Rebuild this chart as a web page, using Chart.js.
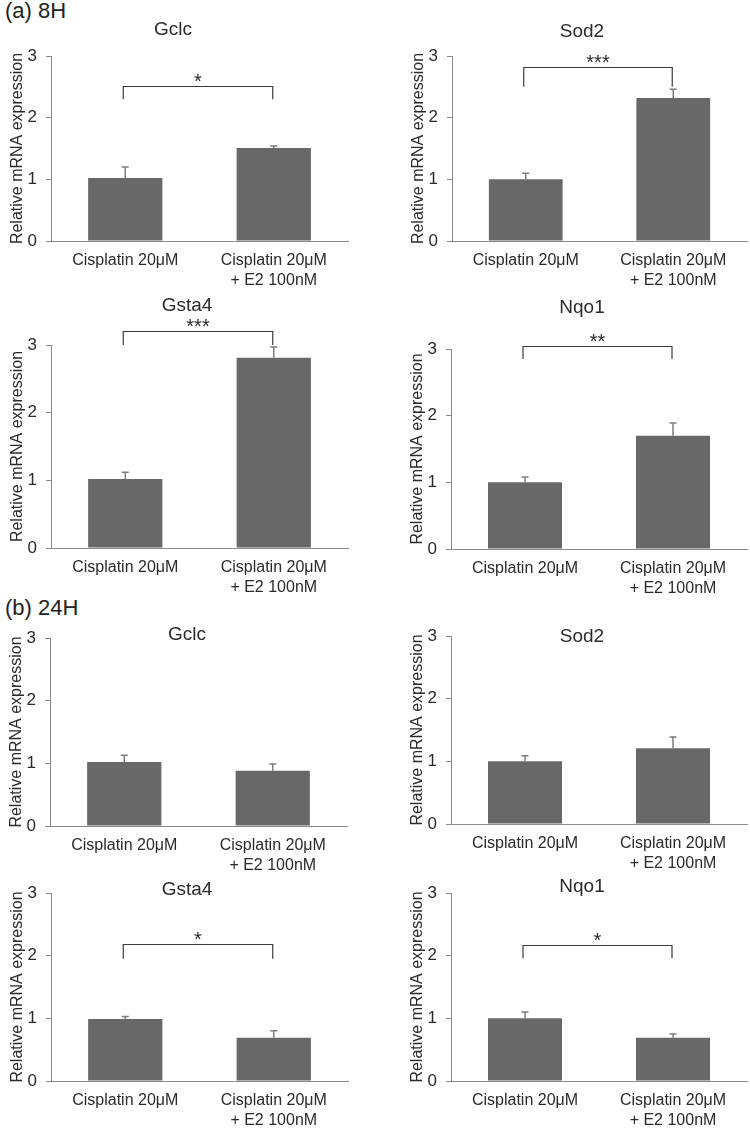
<!DOCTYPE html>
<html>
<head>
<meta charset="utf-8">
<script src="https://cdn.jsdelivr.net/npm/chart.js@4.4.1/dist/chart.umd.min.js"></script>
<style>
    html, body { margin: 0; padding: 0; background: #fff; overflow: hidden; }
    #wrap { position: relative; width: 750px; height: 1128px; }
    #wrap canvas { position: absolute; }
    .tag {
        position: absolute; left: 5px;
        font: 22px "Liberation Sans", Arial, sans-serif;
        line-height: 22px; color: #222;
    }
</style>
</head>
<body>
<div id="wrap">
    <div class="tag" style="top: 0px;">(a) 8H</div>
    <div class="tag" style="top: 597px;">(b) 24H</div>
</div>
<script>
// data
const categories = [["Cisplatin 20μM"], ["Cisplatin 20μM", "+ E2 100nM"]];
const genes = ["Gclc", "Sod2", "Gsta4", "Nqo1", "Gclc", "Sod2", "Gsta4", "Nqo1"];
const means = [
    [1.02, 1.51], [1.0, 2.32], [1.02, 2.81], [1.0, 1.7],
    [1.02, 0.88], [1.0, 1.21], [0.99, 0.69], [1.0, 0.69]
];
const errors = [
    [0.18, 0.03], [0.1, 0.14], [0.1, 0.16], [0.08, 0.19],
    [0.11, 0.11], [0.09, 0.18], [0.04, 0.11], [0.1, 0.06]
];
const stars = ["*", "***", "***", "**", "", "", "*", "*"];
const bracketTop = [2.51, 2.82, 3.2, 3.04, null, null, 2.19, 2.17];
const bracketFoot = [2.3, 2.5, 3.0, 2.85, null, null, 1.95, 1.96];
const yTicks = [0, 1, 2, 3];

// where each panel sits on the page (pixels)
const panels = [
    { col: 0, y3: 56, y0: 241, axisX: 51, right: 348, titleX: 173, titleY: 35 },
    { col: 1, y3: 56, y0: 241, axisX: 452, right: 747, titleX: 582, titleY: 37 },
    { col: 0, y3: 345, y0: 548, axisX: 51, right: 348, titleX: 187, titleY: 311 },
    { col: 1, y3: 349, y0: 549, axisX: 451, right: 747, titleX: 582, titleY: 313 },
    { col: 0, y3: 638, y0: 826, axisX: 50, right: 347, titleX: 187, titleY: 640 },
    { col: 1, y3: 636, y0: 824, axisX: 451, right: 747, titleX: 582, titleY: 642 },
    { col: 0, y3: 893, y0: 1081, axisX: 51, right: 348, titleX: 187, titleY: 895 },
    { col: 1, y3: 893, y0: 1081, axisX: 451, right: 747, titleX: 582, titleY: 892 }
];

const FONT = '"Liberation Sans", Arial, sans-serif';
const TOP = 56, Y_W = 51, X_H = 50;
const barColor = "#686868";
const axisColor = "#8a8a8a";
const textColor = "#2a2a2a";

// error bars, brackets, stars and gene names
const annotate = {
    id: "annotate",
    afterDatasetsDraw(chart, args, opts) {
        const { ctx, scales: { x, y } } = chart;
        const i = opts.index;
        const p = panels[i];
        ctx.save();

        ctx.strokeStyle = "#7c7c7c";
        ctx.lineWidth = 1.5;
        means[i].forEach((m, j) => {
            const cx = x.getPixelForValue(j);
            const yb = y.getPixelForValue(m);
            const ye = y.getPixelForValue(m + errors[i][j]);
            ctx.beginPath();
            ctx.moveTo(cx, yb);
            ctx.lineTo(cx, ye);
            ctx.moveTo(cx - 3.5, ye);
            ctx.lineTo(cx + 3.5, ye);
            ctx.stroke();
        });

        if (bracketTop[i] !== null) {
            const x1 = x.getPixelForValue(0) - 2;
            const x2 = x.getPixelForValue(1) - 1;
            const yt = Math.round(y.getPixelForValue(bracketTop[i])) + 0.5;
            const yf = y.getPixelForValue(bracketFoot[i]);
            ctx.strokeStyle = "#3a3a3a";
            ctx.lineWidth = 1.2;
            ctx.beginPath();
            ctx.moveTo(x1, yf);
            ctx.lineTo(x1, yt);
            ctx.lineTo(x2, yt);
            ctx.lineTo(x2, yf);
            ctx.stroke();

            ctx.fillStyle = textColor;
            ctx.font = "20px " + FONT;
            ctx.textAlign = "center";
            ctx.textBaseline = "alphabetic";
            ctx.fillText(stars[i], (x1 + x2) / 2, yt + 1);
        }

        const left = p.col * 375;
        const top = p.y3 - TOP;
        ctx.fillStyle = textColor;
        ctx.font = "19px " + FONT;
        ctx.textAlign = "center";
        ctx.textBaseline = "alphabetic";
        ctx.fillText(genes[i], p.titleX - left, p.titleY - top);

        ctx.restore();
    }
};

const wrap = document.getElementById("wrap");

panels.forEach((p, i) => {
    const left = p.col * 375;
    const top = p.y3 - TOP;
    const width = 375;
    const height = p.y0 - top + X_H;

    const canvas = document.createElement("canvas");
    canvas.width = width;
    canvas.height = height;
    canvas.style.left = left + "px";
    canvas.style.top = top + "px";
    canvas.style.width = width + "px";
    canvas.style.height = height + "px";
    wrap.appendChild(canvas);

    new Chart(canvas.getContext("2d"), {
        type: "bar",
        data: {
            labels: categories,
            datasets: [{
                data: means[i],
                backgroundColor: barColor,
                borderWidth: 0,
                barPercentage: 0.5,
                categoryPercentage: 1.0
            }]
        },
        options: {
            responsive: false,
            animation: false,
            devicePixelRatio: 1,
            layout: {
                padding: {
                    left: p.axisX - left - Y_W,
                    right: left + width - p.right,
                    top: TOP,
                    bottom: 0
                }
            },
            plugins: {
                legend: { display: false },
                tooltip: { enabled: false },
                annotate: { index: i }
            },
            scales: {
                x: {
                    grid: { display: false, drawTicks: false },
                    border: { display: true, color: axisColor, width: 1 },
                    ticks: {
                        color: textColor,
                        padding: 10,
                        maxRotation: 0,
                        autoSkip: false,
                        font: { family: FONT, size: 16, lineHeight: 1.25 }
                    },
                    afterFit: (scale) => { scale.height = X_H; }
                },
                y: {
                    min: 0,
                    max: 3,
                    afterBuildTicks: (scale) => {
                        scale.ticks = yTicks.map((v) => ({ value: v }));
                    },
                    grid: {
                        drawOnChartArea: false,
                        drawTicks: true,
                        tickLength: 5,
                        color: axisColor
                    },
                    border: { display: true, color: axisColor, width: 1 },
                    ticks: {
                        color: textColor,
                        padding: 9,
                        font: { family: FONT, size: 17 }
                    },
                    title: {
                        display: true,
                        text: "Relative mRNA expression",
                        color: textColor,
                        padding: { top: 8, bottom: 0 },
                        font: { family: FONT, size: 16 }
                    },
                    afterFit: (scale) => { scale.width = Y_W; }
                }
            }
        },
        plugins: [annotate]
    });
});
</script>
</body>
</html>
